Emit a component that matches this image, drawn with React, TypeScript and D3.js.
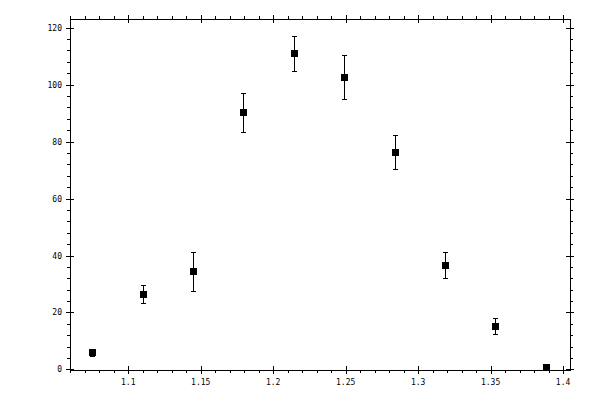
import React from 'react';
import * as d3 from 'd3';

const xValues = [1.0752, 1.1104, 1.1449, 1.1794, 1.2146, 1.2491, 1.2843, 1.3188, 1.3533, 1.3885];
const yValues = [6.0, 26.4, 34.5, 90.2, 110.9, 102.5, 76.2, 36.6, 15.2, 0.8];
const yErrors = [1.2, 3.1, 6.9, 6.7, 6.0, 7.7, 6.0, 4.5, 2.9, 0.3];

const xMajorTicks = [1.1, 1.15, 1.2, 1.25, 1.3, 1.35, 1.4];
const xTickLabels = ['1.1', '1.15', '1.2', '1.25', '1.3', '1.35', '1.4'];
const yMajorTicks = [0, 20, 40, 60, 80, 100, 120];

const W = 600;
const H = 400;
const left = 70;
const right = 570;
const top = 19;
const bottom = 370;

const App: React.FC = () => {
  const x = d3.scaleLinear().domain([1.0598, 1.4048]).range([left, right]);
  const y = d3.scaleLinear().domain([-0.18, 123]).range([bottom, top]);

  const xMinor = d3.range(1.06, 1.4049, 0.01).filter(v => !xMajorTicks.some(t => Math.abs(t - v) < 1e-6));
  const yMinor = d3.range(0, 121, 4).filter(v => v % 20 !== 0);

  const px = (v: number) => Math.round(x(v)) + 0.5;
  const py = (v: number) => Math.round(y(v)) + 0.5;

  const font = { fontFamily: '"DejaVu Sans Mono", monospace', fontSize: 8, fill: '#000' };

  return (
    <svg width={W} height={H} style={{ position: 'absolute', left: 0, top: 0, background: '#fff' }}>
      <g stroke="#000" strokeWidth={1} shapeRendering="crispEdges" fill="none">
        <rect x={left + 0.5} y={top + 0.5} width={right - left} height={bottom - top} />
        {/* x ticks, bottom and top */}
        {xMajorTicks.map(t => (
          <g key={'xm' + t}>
            <line x1={px(t)} x2={px(t)} y1={bottom - 4} y2={bottom + 4} />
            <line x1={px(t)} x2={px(t)} y1={top - 4} y2={top + 4} />
          </g>
        ))}
        {xMinor.map(t => (
          <g key={'xn' + t}>
            <line x1={px(t)} x2={px(t)} y1={bottom} y2={bottom + 3} />
            <line x1={px(t)} x2={px(t)} y1={top - 3} y2={top} />
          </g>
        ))}
        {/* y ticks, left and right */}
        {yMajorTicks.map(t => (
          <g key={'ym' + t}>
            <line x1={left - 4} x2={left + 4} y1={py(t)} y2={py(t)} />
            <line x1={right - 4} x2={right + 4} y1={py(t)} y2={py(t)} />
          </g>
        ))}
        {yMinor.map(t => (
          <g key={'yn' + t}>
            <line x1={left - 3} x2={left} y1={py(t)} y2={py(t)} />
            <line x1={right} x2={right + 3} y1={py(t)} y2={py(t)} />
          </g>
        ))}
      </g>

      {xMajorTicks.map((t, i) => (
        <text key={'xl' + t} x={x(t)} y={bottom + 15} textAnchor="middle" style={font}>
          {xTickLabels[i]}
        </text>
      ))}
      {yMajorTicks.map(t => (
        <text key={'yl' + t} x={left - 8} y={y(t) + 3} textAnchor="end" style={font}>
          {t}
        </text>
      ))}

      <g stroke="#000" strokeWidth={1} shapeRendering="crispEdges">
        {xValues.map((v, i) => (
          <g key={'e' + i}>
            <line x1={px(v)} x2={px(v)} y1={py(yValues[i] + yErrors[i])} y2={py(yValues[i] - yErrors[i])} />
            <line x1={px(v) - 2.5} x2={px(v) + 2.5} y1={py(yValues[i] + yErrors[i])} y2={py(yValues[i] + yErrors[i])} />
            <line x1={px(v) - 2.5} x2={px(v) + 2.5} y1={py(yValues[i] - yErrors[i])} y2={py(yValues[i] - yErrors[i])} />
          </g>
        ))}
      </g>
      <g fill="#000">
        {xValues.map((v, i) => (
          <rect key={'p' + i} x={Math.round(x(v)) - 3} y={Math.round(y(yValues[i])) - 3} width={7} height={7} />
        ))}
      </g>
    </svg>
  );
};

export default App;
